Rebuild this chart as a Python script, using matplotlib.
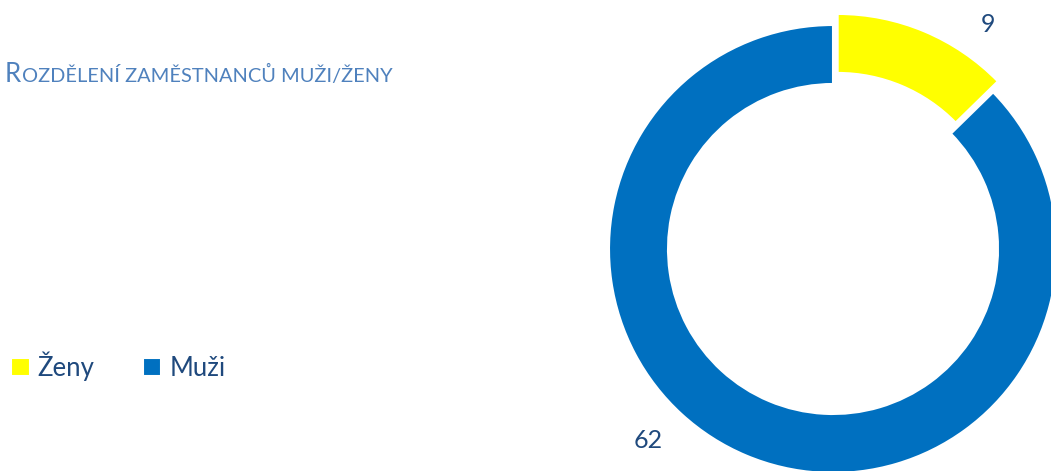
import matplotlib.pyplot as plt
import numpy as np

# ===== data =====
categories = ["Ženy", "Muži"]
values = [9, 62]
colors = ["#FFFF00", "#0070C0"]
title_first = "R"
title_rest = "OZDĚLENÍ ZAMĚSTNANCŮ MUŽI/ŽENY"

plt.rcParams['font.family'] = ['Lato', 'DejaVu Sans']

W, H = 1051, 471
fig = plt.figure(figsize=(W / 100, H / 100), dpi=100)
ax = fig.add_axes([0, 0, 1, 1])

# donut in pixel coordinates (y up)
cx, cy, R = 833, 222, 224
wedges, _ = ax.pie(values, colors=colors, startangle=90, counterclock=False,
                   center=(cx, cy), radius=R, explode=[12, 0],
                   wedgeprops=dict(width=59, edgecolor="white", linewidth=1.5))
ax.set_xlim(0, W)
ax.set_ylim(0, H)
ax.set_aspect('equal')
ax.axis('off')

# data labels
txt_col = "#1F497D"
ax.text(988, H - 25, str(values[0]), fontsize=18, color=txt_col, ha="center", va="center")
ax.text(648, H - 440, str(values[1]), fontsize=18, color=txt_col, ha="center", va="center")

# title (small caps look)
title_col = "#4F81BD"
t1 = ax.text(5, H - 82, title_first, fontsize=18.5, color=title_col, ha="left", va="baseline")
fig.canvas.draw()
bb = t1.get_window_extent()
ax.text(bb.x1 + 1, H - 82, title_rest, fontsize=14.4, color=title_col, ha="left", va="baseline")

# legend
leg = ax.legend(wedges, categories, loc="center left", bbox_to_anchor=(0.0105, 1 - 366 / H),
                ncol=2, frameon=False, fontsize=18.5, labelcolor=txt_col,
                borderpad=0, borderaxespad=0,
                handlelength=0.72, handleheight=0.72, handletextpad=0.3,
                columnspacing=1.9)

fig.savefig("out.png", dpi=100)
